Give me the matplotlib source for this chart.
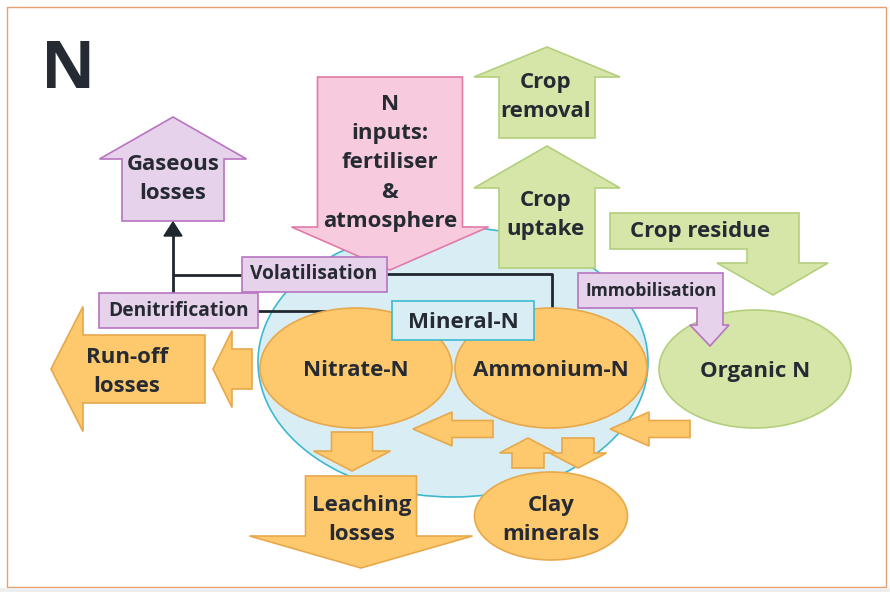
import matplotlib.pyplot as plt
from matplotlib.patches import Polygon, Ellipse, Rectangle

plt.rcParams['font.family'] = ['Open Sans', 'DejaVu Sans']

# ------------------------
# labels of the diagram
title = "N"
pool_labels = ["Nitrate-N", "Ammonium-N", "Organic N", "Clay\nminerals"]
process_labels = ["Volatilisation", "Denitrification", "Immobilisation", "Mineral-N"]
flow_labels = ["Gaseous\nlosses", "N\ninputs:\nfertiliser\n&\natmosphere",
               "Crop\nremoval", "Crop\nuptake", "Crop residue",
               "Run-off\nlosses", "Leaching\nlosses"]

# colours
orange, orange_e = '#fdc96c', '#e8a84c'
green, green_e = '#d6e6a9', '#b4cf7c'
lilac, lilac_e = '#e7d2eb', '#b874c0'
pink, pink_e = '#f8cade', '#e07ba8'
blue, blue_e = '#d9eef4', '#3db8cf'
ink = '#262b33'


def v_arrow(cx, sw, hw, tail, wing, tip):
    # vertical block arrow (works up or down)
    return [(cx - sw / 2, tail), (cx - sw / 2, wing), (cx - hw / 2, wing), (cx, tip),
            (cx + hw / 2, wing), (cx + sw / 2, wing), (cx + sw / 2, tail)]


def h_arrow(cy, sh, hh, tail, wing, tip):
    # horizontal block arrow (works left or right)
    return [(tail, cy - sh / 2), (wing, cy - sh / 2), (wing, cy - hh / 2), (tip, cy),
            (wing, cy + hh / 2), (wing, cy + sh / 2), (tail, cy + sh / 2)]


fig = plt.figure(figsize=(8.9, 5.92), dpi=100)
ax = fig.add_axes([0, 0, 1, 1])
ax.set_xlim(0, 890)
ax.set_ylim(592, 0)
ax.axis('off')


def poly(pts, fc, ec, z=2):
    ax.add_patch(Polygon(pts, closed=True, fc=fc, ec=ec, lw=1.2, zorder=z))


def ell(cx, cy, w, h, fc, ec, z=2):
    ax.add_patch(Ellipse((cx, cy), w, h, fc=fc, ec=ec, lw=1.2, zorder=z))


def box(x0, y0, x1, y1, fc, ec, z=4):
    ax.add_patch(Rectangle((x0, y0), x1 - x0, y1 - y0, fc=fc, ec=ec, lw=1.2, zorder=z))


def txt(x, y, s, size=16, z=10):
    ax.text(x, y, s, ha='center', va='center', fontsize=size, fontweight='bold',
            color=ink, zorder=z, linespacing=1.5)


# frame
ax.add_patch(Rectangle((7, 7), 879, 580, fc='none', ec='#e9a070', lw=1, zorder=0))
ax.add_patch(Rectangle((0, 588), 890, 4, fc='#eeeeee', ec='none', zorder=0))

txt(68, 70, title, size=48)

# mineral N pool
ell(453, 362, 390, 270, blue, blue_e, z=1)

# black connector lines
lk = dict(color='#1f282e', lw=2, solid_capstyle='butt')
ax.plot([173, 173], [232, 294], zorder=3, **lk)
ax.plot([173, 243], [275, 275], zorder=3, **lk)
ax.plot([387, 552, 552], [274, 274, 309], zorder=1.5, **lk)
ax.plot([258, 350], [311, 311], zorder=1.5, **lk)
ax.add_patch(Polygon([(164, 236), (182, 236), (173, 222)], fc='#1f282e', ec='#1f282e', zorder=3))

# gaseous losses
poly(v_arrow(173, 102, 147, 221, 159, 117), lilac, lilac_e)
txt(173, 179, flow_labels[0])

# N inputs
poly(v_arrow(390, 145, 197, 77, 227, 270), pink, pink_e, z=3)
txt(390, 163, flow_labels[1])

# crop removal / uptake
poly(v_arrow(547, 96, 146, 138, 77, 47), green, green_e)
txt(546, 97, flow_labels[2])
poly(v_arrow(547, 96, 146, 268, 188, 146), green, green_e)
txt(546, 215, flow_labels[3])

# crop residue bent arrow
poly([(610, 213), (799, 213), (799, 263), (828, 263), (773, 295), (717, 263),
      (747, 263), (747, 249), (610, 249)], green, green_e)
txt(700, 232, flow_labels[4])

# immobilisation bent arrow
poly([(578, 273), (723, 273), (723, 325), (729, 325), (710, 346), (690, 325),
      (697, 325), (697, 308), (578, 308)], lilac, lilac_e, z=4)
txt(651, 291, process_labels[2], size=12.5)

# process boxes
box(242, 257, 387, 292, lilac, lilac_e)
txt(314, 274, process_labels[0], size=13.8)
box(99, 293, 258, 328, lilac, lilac_e)
txt(179, 311, process_labels[1], size=13.8)

# run-off
poly(h_arrow(369, 68, 125, 205, 83, 51), orange, orange_e)
txt(127, 372, flow_labels[5])
poly(h_arrow(369, 40, 77, 252, 232, 213), orange, orange_e)

# pools
ell(356, 368, 192, 120, orange, orange_e)
txt(356, 371, pool_labels[0])
ell(551, 368, 192, 120, orange, orange_e)
txt(551, 371, pool_labels[1])
ell(755, 369, 192, 118, green, green_e)
txt(755, 371, pool_labels[2])

box(392, 301, 534, 340, blue, blue_e, z=5)
txt(463, 322, process_labels[3])

# small flow arrows
poly(h_arrow(429, 17, 34, 493, 452, 413), orange, orange_e)
poly(h_arrow(429, 17, 34, 690, 649, 610), orange, orange_e)
poly(v_arrow(528, 32, 57, 468, 453, 438), orange, orange_e)
poly(v_arrow(578, 32, 57, 438, 453, 468), orange, orange_e)
poly(v_arrow(352, 41, 77, 432, 451, 471), orange, orange_e)

# leaching
poly(v_arrow(361, 111, 223, 476, 536, 568), orange, orange_e)
txt(362, 520, flow_labels[6])

# clay minerals
ell(551, 516, 153, 88, orange, orange_e)
txt(551, 520, pool_labels[3])

fig.savefig('out.png', dpi=100)
